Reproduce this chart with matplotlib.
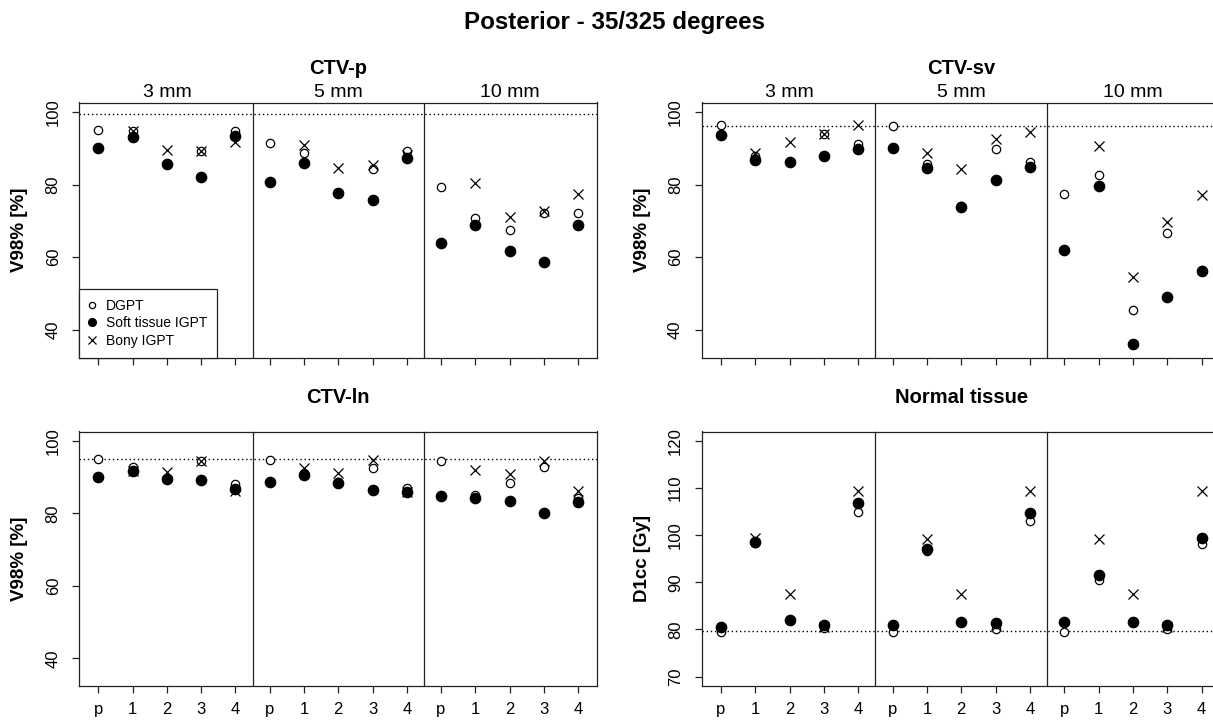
import numpy as np
import matplotlib
matplotlib.use("Agg")
import matplotlib.pyplot as plt

plt.rcParams['font.family'] = ['Liberation Sans', 'DejaVu Sans']

nan = np.nan

timepoints = ['p', '1', '2', '3', '4']
margins = ['3 mm', '5 mm', '10 mm']
series_names = ['DGPT', 'Soft tissue IGPT', 'Bony IGPT']
main_title = 'Posterior - 35/325 degrees'

# CTV-p (3 mm | 5 mm | 10 mm, each p,1,2,3,4)
ctvp_dgpt = [95.1, 94.7, 85.6, 89.3, 94.8, 91.4, 88.7, 77.6, 84.4, 89.3, 79.4, 70.8, 67.5, 72.2, 72.2]
ctvp_soft = [90.0, 93.1, 85.6, 82.0, 93.5, 80.6, 86.0, 77.6, 75.8, 87.3, 63.9, 68.8, 61.7, 58.6, 69.0]
ctvp_bony = [nan, 94.7, 89.5, 89.3, 91.7, nan, 91.0, 84.7, 85.3, 88.2, nan, 80.4, 71.1, 72.7, 77.4]
ctvp_ref = 99.4

# CTV-sv
ctvsv_dgpt = [96.5, 88.0, 86.3, 93.8, 91.1, 96.1, 85.8, 74.0, 89.9, 86.1, 77.5, 82.7, 45.5, 66.7, 56.4]
ctvsv_soft = [93.6, 86.7, 86.2, 87.9, 89.8, 90.0, 84.5, 73.9, 81.4, 84.8, 61.9, 79.6, 36.2, 49.0, 56.1]
ctvsv_bony = [nan, 88.7, 91.8, 93.8, 96.4, nan, 88.6, 84.3, 92.6, 94.4, nan, 90.6, 54.5, 69.8, 77.1]
ctvsv_ref = 96.2

# CTV-ln
ctvln_dgpt = [94.9, 92.7, 89.6, 94.6, 88.0, 94.7, 91.1, 88.6, 92.6, 87.0, 94.6, 85.2, 88.3, 92.7, 84.2]
ctvln_soft = [90.1, 91.8, 89.5, 89.1, 86.8, 88.7, 90.7, 88.3, 86.6, 86.0, 84.7, 84.2, 83.4, 80.1, 83.1]
ctvln_bony = [nan, 91.6, 91.3, 94.6, 86.3, nan, 92.6, 91.1, 94.8, 85.9, nan, 92.1, 90.9, 94.6, 86.3]
ctvln_ref = 94.9

# Normal tissue
nt_dgpt = [79.5, 98.4, 82.0, 80.3, 105.0, 79.5, 96.6, 81.5, 80.0, 103.0, 79.5, 90.5, 81.5, 80.0, 98.1]
nt_soft = [80.5, 98.6, 82.0, 80.9, 106.8, 81.0, 97.0, 81.5, 81.4, 104.8, 81.5, 91.6, 81.5, 80.9, 99.5]
nt_bony = [nan, 99.5, 87.5, 80.6, 109.4, nan, 99.1, 87.5, 80.7, 109.4, nan, 99.1, 87.5, 80.5, 109.4]
nt_ref = 79.7

panel_titles = ['CTV-p', 'CTV-sv', 'CTV-ln', 'Normal tissue']
y_labels = ['V98% [%]', 'V98% [%]', 'V98% [%]', 'D1cc [Gy]']
v98_ticks = [40, 60, 80, 100]
d1cc_ticks = [70, 80, 90, 100, 110, 120]

panels = [
    (ctvp_dgpt, ctvp_soft, ctvp_bony, ctvp_ref, (32.4, 102.6), v98_ticks),
    (ctvsv_dgpt, ctvsv_soft, ctvsv_bony, ctvsv_ref, (32.4, 102.6), v98_ticks),
    (ctvln_dgpt, ctvln_soft, ctvln_bony, ctvln_ref, (32.4, 102.6), v98_ticks),
    (nt_dgpt, nt_soft, nt_bony, nt_ref, (68, 122), d1cc_ticks),
]

W, H = 1213, 720
fig = plt.figure(figsize=(W / 100, H / 100), dpi=100)

# axes boxes in pixels: left, top, right, bottom (right column runs off the edge)
boxes = [
    (79.3, 102.5, 597.2, 357.5),
    (701.7, 102.5, 1220.8, 357.5),
    (79.3, 431.5, 597.2, 686.0),
    (701.7, 431.5, 1220.8, 686.0),
]

edge = '#222222'
x = np.arange(1, 16)

for i, (dgpt, soft, bony, ref, ylim, yticks) in enumerate(panels):
    l, t, r, b = boxes[i]
    ax = fig.add_axes([l / W, 1 - b / H, (r - l) / W, (b - t) / H])

    ax.axhline(ref, color='black', lw=1.0, ls=(0, (1, 2)))
    ax.axvline(5.5, color=edge, lw=0.9)
    ax.axvline(10.5, color=edge, lw=0.9)

    h1, = ax.plot(x, dgpt, 'o', mfc='white', mec='black', ms=6.0, mew=0.9, ls='none')
    h2, = ax.plot(x, soft, 'o', color='black', ms=7.4, ls='none')
    h3, = ax.plot(x, bony, 'x', color='black', ms=7.5, mew=0.9, ls='none')

    ax.set_xlim(0.44, 15.56)
    ax.set_ylim(*ylim)
    ax.set_xticks(x)
    if i >= 2:
        ax.set_xticklabels(timepoints * 3)
    else:
        ax.set_xticklabels([])
    ax.set_yticks(yticks)
    ax.set_yticklabels([str(v) for v in yticks])
    ax.tick_params(axis='x', length=5, width=0.9, color=edge, labelsize=12, pad=6.5)
    ax.tick_params(axis='y', length=5, width=0.9, color=edge, labelsize=12, pad=13.8,
                   labelrotation=90)
    for lbl in ax.get_yticklabels():
        lbl.set_ha('center')
        lbl.set_va('center')
    for sp in ax.spines.values():
        sp.set_color(edge)
        sp.set_linewidth(0.9)

    ax.set_ylabel(y_labels[i], fontsize=13.5, fontweight='bold', va='center')
    ax.yaxis.set_label_coords(-59.5 / (r - l), 0.5)

    ax.annotate(panel_titles[i], xy=(0.5, 1), xycoords='axes fraction',
                xytext=(0, 24.5), textcoords='offset points',
                ha='center', va='center', fontsize=14.5, fontweight='bold')
    if i < 2:
        for k, m in enumerate(margins):
            ax.annotate(m, xy=(3 + 5 * k, 1), xycoords=('data', 'axes fraction'),
                        xytext=(0, 7.5), textcoords='offset points',
                        ha='center', va='center', fontsize=14)

    if i == 0:
        leg = ax.legend([h1, h2, h3], series_names, loc='lower left', borderaxespad=0,
                        fancybox=False, edgecolor=edge, framealpha=1, fontsize=10,
                        handlelength=0.5, handletextpad=0.7, borderpad=0.7,
                        labelspacing=0.25, markerscale=0.75)
        leg.get_frame().set_linewidth(0.9)

fig.text(615 / W, 1 - 22 / H, main_title, ha='center', va='center',
         fontsize=17.4, fontweight='bold')

fig.savefig('out.png', dpi=100)
